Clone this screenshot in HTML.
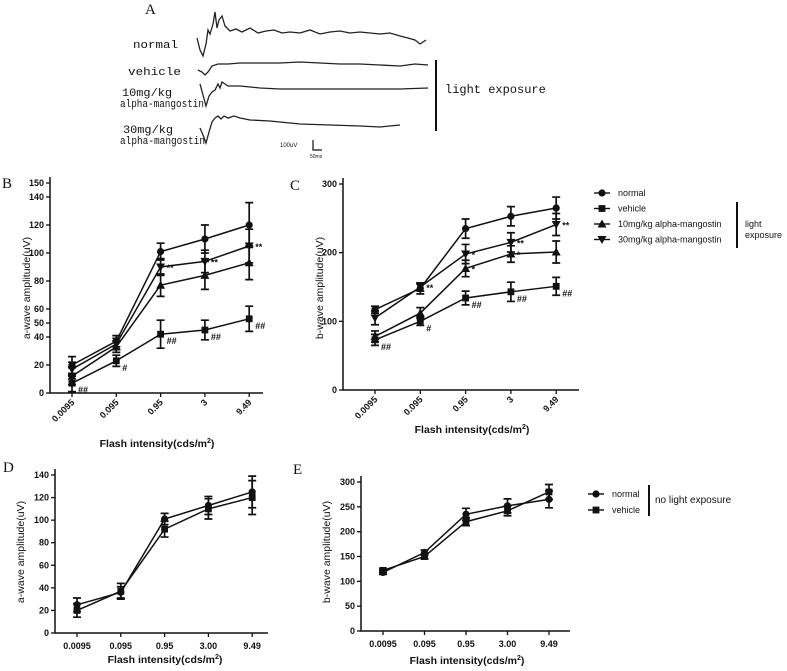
<!DOCTYPE html>
<html><head><meta charset="utf-8"><style>
body{margin:0;background:#fff}
svg{display:block}
text{font-family:"Liberation Sans",Arial,sans-serif;fill:#111}
.mono{font-family:"Liberation Mono","Courier New",monospace;font-size:11px}
.tk{font-size:9px;font-weight:bold}
.ti{font-size:10.5px;font-weight:bold}
.pl{font-family:"Liberation Serif",serif;font-size:15px}
.lg{font-size:9px}
</style></head><body>
<svg id="fig" width="787" height="671" viewBox="0 0 787 671">
<g>
<text x="145" y="14" class="pl">A</text>
<text x="133" y="48" class="mono" textLength="45" lengthAdjust="spacingAndGlyphs">normal</text>
<text x="128" y="75" class="mono" textLength="53" lengthAdjust="spacingAndGlyphs">vehicle</text>
<text x="122" y="96" class="mono" textLength="50" lengthAdjust="spacingAndGlyphs">10mg/kg</text>
<text x="120" y="107" class="mono" textLength="84" lengthAdjust="spacingAndGlyphs">alpha-mangostin</text>
<text x="123" y="133" class="mono" textLength="50" lengthAdjust="spacingAndGlyphs">30mg/kg</text>
<text x="120" y="144" class="mono" textLength="85" lengthAdjust="spacingAndGlyphs">alpha-mangostin</text>
<g fill="none" stroke="#222" stroke-width="1.3">
<path d="M197,38 L200,50 L203,56 L206,44 L208,30 L210,34 L213,24 L215,12 L217,28 L219,20 L222,16 L225,26 L230,31 L236,29 L242,32 L250,28 L258,33 L266,31 L274,30 L282,33 L290,32 L300,33 L310,30 L320,34 L330,32 L340,31 L350,33 L360,32 L370,33 L380,34 L390,33 L400,36 L408,38 L415,40 L420,44 L426,40"/>
<path d="M198,70 L202,72 L205,75 L208,72 L212,66 L218,64 L228,64 L240,63 L260,63 L280,63 L300,62 L320,63 L340,64 L360,64 L380,65 L400,66 L415,64 L428,65"/>
<path d="M200,84 L203,95 L206,106 L209,96 L212,92 L215,90 L218,84 L220,88 L222,82 L225,84 L228,86 L240,86 L260,88 L280,89 L300,89 L330,89 L360,89 L400,89 L428,88"/>
<path d="M200,128 L203,135 L206,143 L209,132 L212,122 L215,118 L218,116 L221,119 L224,116 L228,118 L234,116 L240,118 L250,120 L270,121 L300,124 L330,125 L360,126 L380,127 L400,125"/>
</g>
<line x1="436" y1="60" x2="436" y2="131" stroke="#111" stroke-width="2"/>
<text x="445" y="93" class="mono" style="font-size:12px">light exposure</text>
<path d="M313,140 L313,150 L322,150" fill="none" stroke="#111" stroke-width="1.2"/>
<text x="280" y="147" style="font-size:6px">100uV</text>
<text x="310" y="158" style="font-size:5px">50ms</text>
</g>
<text x="2" y="188" class="pl">B</text>
<text x="290" y="190" class="pl">C</text>
<text x="3" y="472" class="pl">D</text>
<text x="293" y="474" class="pl">E</text>
<g id="charts"></g>
</svg>
<script>
// ---- data ----
const catsBC = ["0.0095","0.095","0.95","3","9.49"];
const catsDE = ["0.0095","0.095","0.95","3.00","9.49"];
const bNormal = [20,37,101,110,120];
const b30 = [17,35,90,94,105];
const b10 = [12,33,77,84,93];
const bVehicle = [7,23,42,45,53];
const bNormalErr = [6,4,6,10,16];
const b30Err = [5,4,6,8,12];
const b10Err = [6,4,8,10,12];
const bVehicleErr = [6,4,10,7,9];
const bTicks = [0,20,40,50,60,80,100,120,140,150];
const cNormal = [117,148,235,253,265];
const c30 = [105,150,198,215,241];
const c10 = [78,112,177,198,201];
const cVehicle = [73,100,134,143,151];
const cNormalErr = [5,8,14,14,16];
const c30Err = [10,6,14,14,16];
const c10Err = [8,8,12,12,16];
const cVehicleErr = [8,6,10,14,13];
const cTicks = [0,100,200,300];
const dNormal = [25,36,101,113,125];
const dVehicle = [20,37,92,110,120];
const dNormalErr = [6,5,5,8,14];
const dVehicleErr = [6,7,7,9,15];
const dTicks = [0,20,40,60,80,100,120,140];
const eNormal = [118,158,235,252,265];
const eVehicle = [122,150,220,242,280];
const eNormalErr = [4,5,12,14,17];
const eVehicleErr = [4,5,8,10,15];
const eTicks = [0,50,100,150,200,250,300];
const bMarks = [["##",0,bVehicle],["#",1,bVehicle],["##",2,bVehicle],["##",3,bVehicle],["##",4,bVehicle],["**",2,b30],["**",3,b30],["**",4,b30]];

const NS="http://www.w3.org/2000/svg";
const root=document.getElementById('charts');
function el(tag,attrs,parent){const e=document.createElementNS(NS,tag);for(const k in attrs)e.setAttribute(k,attrs[k]);(parent||root).appendChild(e);return e;}

function marker(shape,x,y,g){
  let m;
  if(shape==='circle') m=el('circle',{cx:x,cy:y,r:3.6,fill:'#111'},g);
  else if(shape==='square') m=el('rect',{x:x-3.4,y:y-3.4,width:6.8,height:6.8,fill:'#111'},g);
  else if(shape==='up') m=el('path',{d:`M${x},${y-4.5}L${x+4.5},${y+3.5}L${x-4.5},${y+3.5}Z`,fill:'#111'},g);
  else m=el('path',{d:`M${x},${y+4.5}L${x+4.5},${y-3.5}L${x-4.5},${y-3.5}Z`,fill:'#111'},g);
  return m;
}

function chart(c){
  const g=el('g',{});
  
  
  const xS=i=>c.x0+c.step*i;
  const yS=v=>c.y0-(v-c.ymin)*(c.y0-c.ytop)/(c.ymax-c.ymin);
  const ax=el('path',{d:`M${c.ax},${yS(c.ymax)-6}L${c.ax},${c.y0}L${c.axEnd},${c.y0}`,fill:'none',stroke:'#111','stroke-width':1.5},g);
  
  
  c.ticks.forEach(t=>{
    el('line',{x1:c.ax-4,y1:yS(t),x2:c.ax,y2:yS(t),stroke:'#111','stroke-width':1.3},g);
    const tx=el('text',{x:c.ax-6,y:yS(t)+3,'text-anchor':'end',class:'tk'},g);tx.textContent=t;
    
    
  });
  c.cats.forEach((cat,i)=>{
    el('line',{x1:xS(i),y1:c.y0,x2:xS(i),y2:c.y0+4,stroke:'#111','stroke-width':1.3},g);
    let tx;
    if(c.rot){tx=el('text',{x:xS(i)+3,y:c.y0+10,'text-anchor':'end',class:'tk',transform:`rotate(-45 ${xS(i)+3} ${c.y0+10})`},g);}
    else tx=el('text',{x:xS(i),y:c.y0+16,'text-anchor':'middle',class:'tk'},g);
    tx.textContent=cat;
    
    
  });
  const xt=el('text',{x:c.xtx,y:c.xty,'text-anchor':'middle',class:'ti'},g);
  xt.innerHTML='Flash intensity(cds/m<tspan dy="-4" style="font-size:7px">2</tspan><tspan dy="4">)</tspan>';
  
  
  const yt=el('text',{x:0,y:0,'text-anchor':'middle',class:'ti',style:'font-weight:normal;font-size:10.5px',transform:`translate(${c.ytx},${c.yty}) rotate(-90)`},g);
  yt.textContent=c.ytitle;
  
  
  c.series.forEach(s=>{
    const sg=el('g',{},g);
    
    
    const ln=el('path',{d:s.v.map((v,i)=>(i?'L':'M')+xS(i)+','+yS(v)).join(''),fill:'none',stroke:'#111','stroke-width':1.5},sg);
    
    
    s.v.forEach((v,i)=>{
      const x=xS(i),y1=yS(v+s.e[i]),y2=yS(v-s.e[i]);
      const eb=el('path',{d:`M${x},${y1}L${x},${y2}M${x-4},${y1}L${x+4},${y1}M${x-4},${y2}L${x+4},${y2}`,stroke:'#111','stroke-width':1.7,fill:'none'},sg);
      
      
      const m=marker(s.shape,x,yS(v),sg);
      
      
    });
  });
  (c.marks||[]).forEach(([t,i,arr])=>{
    const tx=el('text',{x:xS(i)+6,y:yS(arr[i])+(t[0]=='#'?10:4),style:'font-size:9px;font-weight:bold'},g);
    tx.textContent=t;
    
    
  });
  return g;
}

chart({name:'chart-b-awave',cats:catsBC,x0:72,step:44.3,ax:50,axEnd:263,y0:393,ytop:183,ymin:0,ymax:150,ticks:bTicks,rot:true,
  xtx:157,xty:447,ytx:30,yty:288,ytitle:'a-wave amplitude(uV)',
  series:[{name:'normal',v:bNormal,e:bNormalErr,shape:'circle'},{name:'30mg',v:b30,e:b30Err,shape:'down'},{name:'10mg',v:b10,e:b10Err,shape:'up'},{name:'vehicle',v:bVehicle,e:bVehicleErr,shape:'square'}],
  marks:bMarks});
chart({name:'chart-c-bwave',cats:catsBC,x0:375,step:45.3,ax:343,axEnd:579,y0:390,ytop:184,ymin:0,ymax:300,ticks:cTicks,rot:true,
  xtx:472,xty:433,ytx:323,yty:288,ytitle:'b-wave amplitude(uV)',
  series:[{name:'normal',v:cNormal,e:cNormalErr,shape:'circle'},{name:'30mg',v:c30,e:c30Err,shape:'down'},{name:'10mg',v:c10,e:c10Err,shape:'up'},{name:'vehicle',v:cVehicle,e:cVehicleErr,shape:'square'}],
  marks:[["##",0,cVehicle],["#",1,cVehicle],["##",2,cVehicle],["##",3,cVehicle],["##",4,cVehicle],["**",1,c30],["*",2,c30],["**",3,c30],["**",4,c30],["*",2,c10],["*",3,c10]]});
chart({name:'chart-d-awave',cats:catsDE,x0:77,step:43.8,ax:55,axEnd:268,y0:633,ytop:475,ymin:0,ymax:140,ticks:dTicks,rot:false,
  xtx:165,xty:663,ytx:24,yty:552,ytitle:'a-wave amplitude(uV)',
  series:[{name:'normal',v:dNormal,e:dNormalErr,shape:'circle'},{name:'vehicle',v:dVehicle,e:dVehicleErr,shape:'square'}]});
chart({name:'chart-e-bwave',cats:catsDE,x0:383,step:41.5,ax:361,axEnd:570,y0:631,ytop:482,ymin:0,ymax:300,ticks:eTicks,rot:false,
  xtx:467,xty:664,ytx:330,yty:552,ytitle:'b-wave amplitude(uV)',
  series:[{name:'normal',v:eNormal,e:eNormalErr,shape:'circle'},{name:'vehicle',v:eVehicle,e:eVehicleErr,shape:'square'}]});

// legends
function legend(items,x,y0,dy,name){
  const g=el('g',{});
  
  
  items.forEach(([label,shape],i)=>{
    const y=y0+dy*i;
    const eg=el('g',{},g);
    
    
    el('line',{x1:x,y1:y,x2:x+16,y2:y,stroke:'#111','stroke-width':1.4},eg);
    marker(shape,x+8,y,eg);
    const t=el('text',{x:x+24,y:y+3,class:'lg'},eg);t.textContent=label;
  });
}
legend([["normal","circle"],["vehicle","square"],["10mg/kg alpha-mangostin","up"],["30mg/kg alpha-mangostin","down"]],594,193,15.5,'legend-c');
el('line',{x1:737,y1:202,x2:737,y2:248,stroke:'#111','stroke-width':2});
const le=el('text',{x:745,y:227,class:'lg'});le.innerHTML='light';
const le2=el('text',{x:745,y:238,class:'lg'});le2.innerHTML='exposure';
legend([["normal","circle"],["vehicle","square"]],588,494,16,'legend-e');
el('line',{x1:649,y1:485,x2:649,y2:516,stroke:'#111','stroke-width':2});
const ne=el('text',{x:655,y:503,style:'font-size:10px'});ne.textContent='no light exposure';


</script>
</body></html>
